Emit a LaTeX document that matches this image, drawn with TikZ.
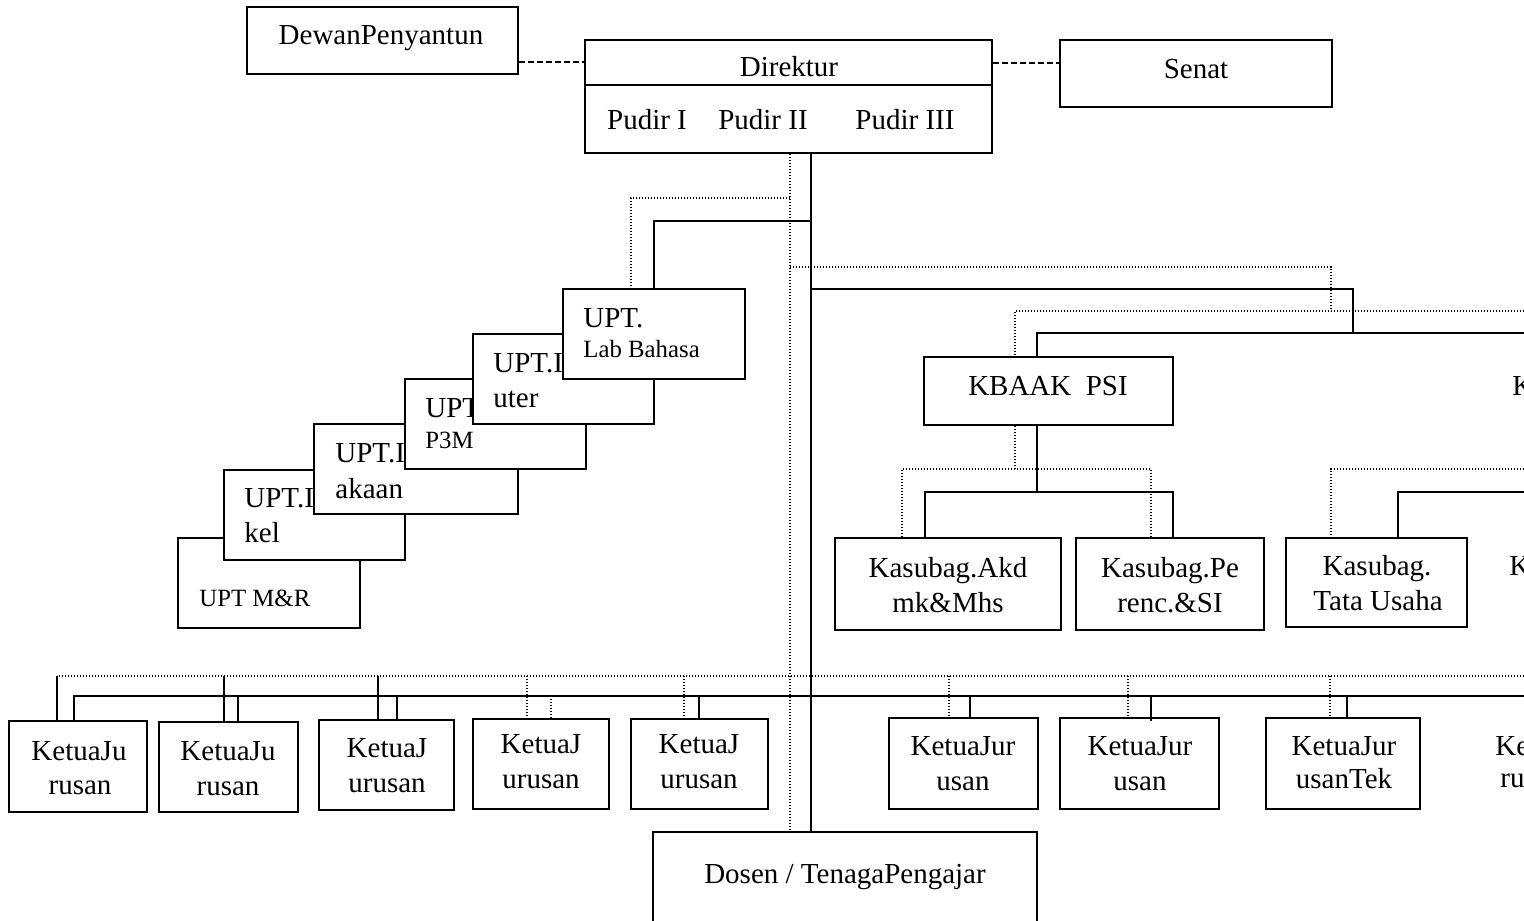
\documentclass[tikz,border=0pt]{standalone}
\usepackage{fontspec}
\setmainfont{Liberation Serif}
\usetikzlibrary{fit}
\begin{document}
\begin{tikzpicture}[x=0.5pt,y=-0.5pt,
  box/.style={draw, line width=1pt, inner sep=0pt, fill=white},
  txt/.style={inner sep=0pt, anchor=base, font=\fontsize{14.5}{17}\selectfont},
  ltxt/.style={txt, anchor=base west},
  stxt/.style={ltxt, font=\fontsize{12.4}{14}\selectfont},
  conn/.style={line width=1pt},
  dotline/.style={line width=0.7pt, dash pattern=on 0.7pt off 0.8pt},
  dashline/.style={line width=1pt, dash pattern=on 3pt off 1.5pt}]
\useasboundingbox (0,0) rectangle (1524,920);
\clip (0,0) rectangle (1524,920);

% ---- top boxes
\node[box, fit={(247,7) (518,74)}] (dewan) {};
\node[txt] (dewanT) at (381,45) {DewanPenyantun};
\node[box, fit={(585,40) (992,153)}] (dir) {};
\draw[conn] (dir.west |- 0,85) -- (dir.east |- 0,85);
\node[txt] (dirT) at (789,77) {Direktur};
\node[txt] (p1) at (647,129) {Pudir I};
\node[txt] (p2) at (763,129) {Pudir II};
\node[txt] (p3) at (905,129) {Pudir III};
\node[box, fit={(1060,40) (1332,107)}] (senat) {};
\node[txt] (senatT) at (1196,79) {Senat};
\draw[dashline] (dewan.east |- 0,62) -- (dir.west |- 0,62);
\draw[dashline] (dir.east |- 0,63) -- (senat.west |- 0,63);

% ---- Dosen box (bottom runs past the page)
\node[box, fit={(653,832) (1037,960)}] (dosen) {};
\node[txt] (dosenT) at (845,883) {Dosen / TenagaPengajar};

% ---- trunks
\coordinate (tS) at (811,0);
\coordinate (tD) at (790,0);
\draw[conn] (dir.south -| tS) -- (dosen.north -| tS);
\draw[dotline] (dir.south -| tD) -- (dosen.north -| tD);

% ---- UPT staircase (back to front)
\node[box, fit={(178,538) (360,628)}] (upt6) {};
\node[stxt] (upt6T) at (199,606) {UPT M\&R};
\node[box, fit={(224,470) (405,560)}] (upt5) {};
\node[ltxt] (upt5a) at (244,507) {UPT.I};
\node[ltxt] (upt5b) at (244,542) {kel};
\node[box, fit={(314,424) (518,514)}] (upt4) {};
\node[ltxt] (upt4a) at (335,462) {UPT.I};
\node[ltxt] (upt4b) at (335,498) {akaan};
\node[box, fit={(405,379) (586,469)}] (upt3) {};
\node[ltxt] (upt3a) at (425,417) {UPT};
\node[stxt] (upt3b) at (425,448) {P3M};
\node[box, fit={(473,334) (654,424)}] (upt2) {};
\node[ltxt] (upt2a) at (493,372) {UPT.I};
\node[ltxt] (upt2b) at (493,407) {uter};
\node[box, fit={(563,289) (745,379)}] (upt1) {};
\node[ltxt] (upt1a) at (583,327) {UPT.};
\node[stxt] (upt1b) at (583,357) {Lab Bahasa};

\coordinate (uS) at (654,221);
\coordinate (uD) at (631,198);
\draw[conn] (uS -| tS) -- (uS) -- (uS |- upt1.north);
\draw[dotline] (uD -| tD) -- (uD) -- (uD |- upt1.north);

% ---- right branch
\node[box, fit={(924,357) (1173,425)}] (kbaak) {};
\node[txt] (kbaakT) at (1048,395) {KBAAK~~PSI};
\node[ltxt] (kR1) at (1512,395) {K};

\coordinate (rS) at (1353,289);
\coordinate (rD) at (1331,267);
\coordinate (bS) at (1037,333);
\coordinate (bD) at (1015,311);
\coordinate (eS) at (1524,333);
\coordinate (eD) at (1524,311);
\draw[conn] (rS -| tS) -- (rS) -- (rS |- bS);
\draw[conn] (eS) -- (bS) -- (bS |- kbaak.north);
\draw[dotline] (rD -| tD) -- (rD) -- (rD |- bD);
\draw[dotline] (eD) -- (bD) -- (bD |- kbaak.north);

\node[box, fit={(835,538) (1061,630)}] (ksA) {};
\node[txt] (ksA1) at (948,577) {Kasubag.Akd};
\node[txt] (ksA2) at (948,612) {mk\&Mhs};
\node[box, fit={(1076,538) (1264,630)}] (ksP) {};
\node[txt] (ksP1) at (1170,577) {Kasubag.Pe};
\node[txt] (ksP2) at (1170,612) {renc.\&SI};
\node[box, fit={(1286,538) (1467,627)}] (ksT) {};
\node[txt] (ksT1) at (1377,575) {Kasubag.};
\node[txt] (ksT2) at (1378,610) {Tata Usaha};
\node[ltxt] (kR2) at (1509,575) {K};

\coordinate (kS) at (1037,492);
\coordinate (kSL) at (925,492);
\coordinate (kSR) at (1173,492);
\coordinate (kD) at (1015,469);
\coordinate (kDL) at (902,469);
\coordinate (kDR) at (1151,469);
\draw[conn] (kbaak.south -| kS) -- (kS);
\draw[conn] (kSL |- ksA.north) -- (kSL) -- (kSR) -- (kSR |- ksP.north);
\draw[dotline] (kbaak.south -| kD) -- (kD);
\draw[dotline] (kDL |- ksA.north) -- (kDL) -- (kDR) -- (kDR |- ksP.north);

\coordinate (tS2) at (1398,492);
\coordinate (tSE) at (1524,492);
\coordinate (tD2) at (1331,469);
\coordinate (tDE) at (1524,469);
\draw[conn] (tSE) -- (tS2) -- (tS2 |- ksT.north);
\draw[dotline] (tDE) -- (tD2) -- (tD2 |- ksT.north);

% ---- bottom row
\node[box, fit={(9,721) (147,812)}] (k1) {};
\node[txt] (k1a) at (79,760) {KetuaJu};
\node[txt] (k1b) at (80,794) {rusan};
\node[box, fit={(159,722) (298,812)}] (k2) {};
\node[txt] (k2a) at (228,760) {KetuaJu};
\node[txt] (k2b) at (228,795) {rusan};
\node[box, fit={(319,720) (454,810)}] (k3) {};
\node[txt] (k3a) at (387,757) {KetuaJ};
\node[txt] (k3b) at (387,792) {urusan};
\node[box, fit={(473,719) (609,809)}] (k4) {};
\node[txt] (k4a) at (541,753) {KetuaJ};
\node[txt] (k4b) at (541,788) {urusan};
\node[box, fit={(631,719) (768,809)}] (k5) {};
\node[txt] (k5a) at (699,753) {KetuaJ};
\node[txt] (k5b) at (699,788) {urusan};
\node[box, fit={(889,718) (1038,809)}] (k6) {};
\node[txt] (k6a) at (963,755) {KetuaJur};
\node[txt] (k6b) at (963,790) {usan};
\node[box, fit={(1060,718) (1219,809)}] (k7) {};
\node[txt] (k7a) at (1140,755) {KetuaJur};
\node[txt] (k7b) at (1140,790) {usan};
\node[box, fit={(1266,718) (1420,809)}] (k8) {};
\node[txt] (k8a) at (1344,755) {KetuaJur};
\node[txt] (k8b) at (1344,788) {usanTek};
\node[ltxt] (kR3a) at (1495,755) {Ke};
\node[ltxt] (kR3b) at (1500,787) {ru};

\coordinate (busS) at (74,696);
\coordinate (busSE) at (1524,696);
\coordinate (busD) at (57,676);
\coordinate (busDE) at (1524,676);
\draw[dotline] (busDE) -- (busD);
\draw[conn] (busD) -- (busD |- k1.north);
\draw[conn] (busSE) -- (busS) -- (busS |- k1.north);
\foreach \x/\n in {224/k2, 378/k3} {\draw[conn] (\x,676) -- (\n.north -| \x,0);}
\foreach \x/\n in {238/k2, 397/k3, 699/k5, 970/k6, 1347/k8} {\draw[conn] (\x,696) -- (\n.north -| \x,0);}
\draw[conn] (1151,696) -- ([yshift=-2pt]k7.north -| 1151,0);
\foreach \x/\n in {527/k4, 684/k5, 949/k6, 1128/k7, 1330/k8} {\draw[dotline] (\x,676) -- (\n.north -| \x,0);}
\draw[dotline] (551,696) -- (k4.north -| 551,0);
\end{tikzpicture}
\end{document}
